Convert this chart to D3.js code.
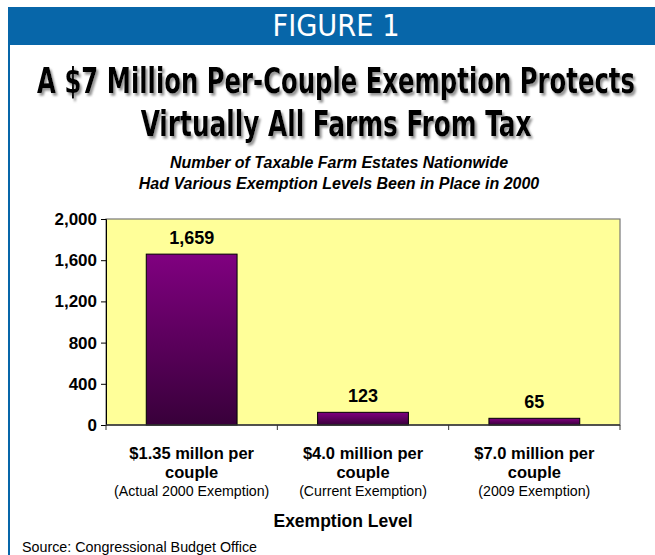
<!DOCTYPE html>
<html><head><meta charset="utf-8">
<script src="https://cdn.jsdelivr.net/npm/d3@7"></script>
<style>body{margin:0;background:#fff}svg{display:block}</style>
</head><body>
<svg id="c" width="655" height="555"></svg>
<script>
const categories = ["$1.35 millon per|couple", "$4.0 million per|couple", "$7.0 million per|couple"];
const subLabels = ["(Actual 2000 Exemption)", "(Current Exemption)", "(2009 Exemption)"];
const values = [1659, 123, 65];
const valueLabels = ["1,659", "123", "65"];
const yTicks = [0, 400, 800, 1200, 1600, 2000];

const svg = d3.select("#c");
const W = 655, H = 555;
const sans = "'Liberation Sans',Arial,sans-serif";
const narrow = "'DejaVu Sans Condensed','Liberation Sans',sans-serif";
svg.append("rect").attr("width", W).attr("height", H).attr("fill", "#fff");

const defs = svg.append("defs");
const f = defs.append("filter").attr("id", "sh").attr("x", "-5%").attr("y", "-20%").attr("width", "110%").attr("height", "150%");
f.append("feDropShadow").attr("dx", 2).attr("dy", 2).attr("stdDeviation", 0.8).attr("flood-color", "#888").attr("flood-opacity", 0.9);

// fit a text to a width by shrinking font-size and stretching vertically
function fitText(sel, cx, cy, targetW, vSize) {
  sel.attr("font-size", vSize);
  const w0 = sel.node().getComputedTextLength();
  const fs = vSize * targetW / w0;
  sel.attr("font-size", fs).attr("x", 0).attr("y", 0)
    .attr("transform", `translate(${cx},${cy}) scale(1,${vSize / fs})`);
}

// banner
svg.append("rect").attr("x", 8).attr("y", 7).attr("width", W - 8).attr("height", 38).attr("fill", "#0766a9");
svg.append("rect").attr("x", 8).attr("y", 45).attr("width", 2).attr("height", H - 45).attr("fill", "#0766a9");
fitText(svg.append("text").attr("text-anchor", "middle").attr("font-family", narrow).attr("fill", "#fff").text("FIGURE 1"),
  336, 36, 127, 31);

// title
const titleLines = [["A $7 Million Per-Couple Exemption Protects", 93, 598], ["Virtually All Farms From Tax", 136, 391]];
titleLines.forEach(([t, y, w]) => {
  const s = svg.append("text").attr("text-anchor", "middle")
    .attr("font-family", narrow).attr("font-weight", "bold").attr("fill", "#000")
    .attr("filter", "url(#sh)").text(t);
  fitText(s, 336, y, w, 36);
});

// subtitle
["Number of Taxable Farm Estates Nationwide", "Had Various Exemption Levels Been in Place in 2000"].forEach((t, i) => {
  svg.append("text").attr("x", 339).attr("y", 168 + i * 21).attr("text-anchor", "middle")
    .attr("font-family", sans).attr("font-style", "italic")
    .attr("font-weight", "bold").attr("font-size", 16).attr("fill", "#000").text(t);
});

const m = {l: 106, r: 620, t: 219, b: 425};
const x = d3.scaleBand().domain(categories).range([m.l, m.r]).paddingInner(0.47).paddingOuter(0.235);
const y = d3.scaleLinear().domain([0, 2000]).range([m.b, m.t]);

svg.append("rect").attr("x", m.l).attr("y", m.t).attr("width", m.r - m.l).attr("height", m.b - m.t)
  .attr("fill", "#ffff99").attr("stroke", "#777").attr("stroke-width", 1.2);

const grad = defs.append("linearGradient").attr("id", "g").attr("x1", 0).attr("y1", 0).attr("x2", 0).attr("y2", 1);
grad.append("stop").attr("offset", "0%").attr("stop-color", "#800080");
grad.append("stop").attr("offset", "100%").attr("stop-color", "#38003a");

svg.selectAll(".bar").data(values).join("rect")
  .attr("x", (d, i) => x(categories[i])).attr("width", x.bandwidth())
  .attr("y", d => y(d)).attr("height", d => y(0) - y(d))
  .attr("fill", "url(#g)").attr("stroke", "#000").attr("stroke-width", 1);

svg.selectAll(".vl").data(values).join("text")
  .attr("x", (d, i) => x(categories[i]) + x.bandwidth() / 2).attr("y", d => y(d) - 10)
  .attr("text-anchor", "middle").attr("font-family", sans)
  .attr("font-weight", "bold").attr("font-size", 18).text((d, i) => valueLabels[i]);

// y axis
const ya = svg.append("g").attr("transform", `translate(${m.l},0)`)
  .call(d3.axisLeft(y).tickValues(yTicks).tickSize(5).tickFormat(d3.format(",")));
ya.select(".domain").attr("stroke", "#000");
ya.selectAll("line").attr("stroke", "#000");
ya.selectAll("text").attr("font-family", sans).attr("font-weight", "bold")
  .attr("font-size", 17).attr("fill", "#000").attr("dx", "-1");

// x axis baseline & ticks at band boundaries
svg.append("line").attr("x1", m.l).attr("x2", m.r).attr("y1", m.b).attr("y2", m.b).attr("stroke", "#333").attr("stroke-width", 1.5);
d3.range(4).forEach(i => {
  const xx = m.l + i * (m.r - m.l) / 3;
  svg.append("line").attr("x1", xx).attr("x2", xx).attr("y1", m.b).attr("y2", m.b + 5).attr("stroke", "#333");
});

// category labels
categories.forEach((c, i) => {
  const cx = x(c) + x.bandwidth() / 2;
  c.split("|").forEach((t, j) => {
    svg.append("text").attr("x", cx).attr("y", 459 + j * 19).attr("text-anchor", "middle")
      .attr("font-family", sans).attr("font-weight", "bold")
      .attr("font-size", 16.5).text(t);
  });
  svg.append("text").attr("x", cx).attr("y", 496).attr("text-anchor", "middle")
    .attr("font-family", sans).attr("font-size", 14.2).text(subLabels[i]);
});

svg.append("text").attr("x", 343).attr("y", 527).attr("text-anchor", "middle")
  .attr("font-family", sans).attr("font-weight", "bold")
  .attr("font-size", 17.5).text("Exemption Level");

svg.append("text").attr("x", 22).attr("y", 552)
  .attr("font-family", sans).attr("font-size", 14.3).text("Source:  Congressional Budget Office");
</script>
</body></html>
